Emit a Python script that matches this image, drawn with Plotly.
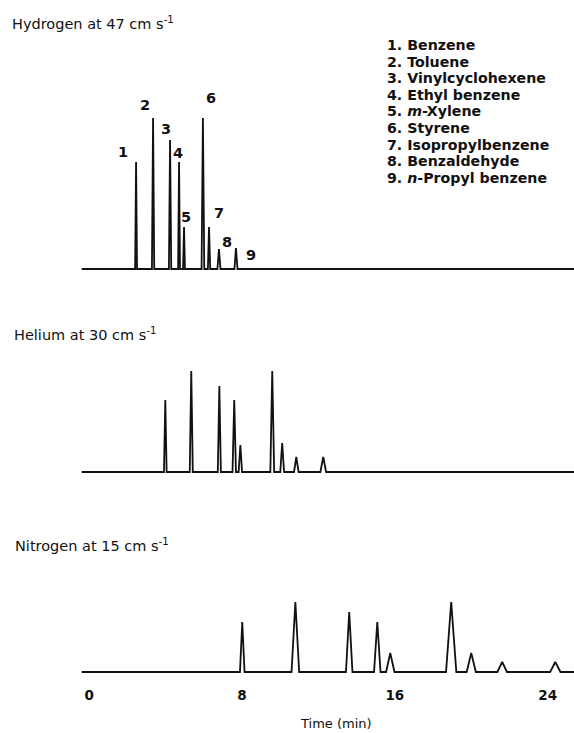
import plotly.graph_objects as go

# Peak identities (same elution order on every column)
PEAK_IDS = ["1", "2", "3", "4", "5", "6", "7", "8", "9"]
COMPOUNDS = [
    "Benzene",
    "Toluene",
    "Vinylcyclohexene",
    "Ethyl benzene",
    "<i>m</i>-Xylene",
    "Styrene",
    "Isopropylbenzene",
    "Benzaldehyde",
    "<i>n</i>-Propyl benzene",
]

# Carrier gas runs: retention time (min), peak height (detector units), half base width (min)
H2_TITLE = "Hydrogen at 47 cm s<sup>-1</sup>"
H2_TIMES = [2.45, 3.34, 4.23, 4.70, 4.96, 5.95, 6.27, 6.79, 7.68]
H2_HEIGHTS = [107, 151, 129, 107, 42, 151, 42, 20, 21]
H2_WIDTHS = [0.05, 0.06, 0.06, 0.05, 0.05, 0.07, 0.06, 0.08, 0.08]

HE_TITLE = "Helium at 30 cm s<sup>-1</sup>"
HE_TIMES = [3.98, 5.34, 6.81, 7.59, 7.91, 9.58, 10.10, 10.84, 12.25]
HE_HEIGHTS = [72, 101, 86, 72, 27, 101, 29, 15, 15]
HE_WIDTHS = [0.07, 0.08, 0.08, 0.09, 0.09, 0.10, 0.10, 0.12, 0.15]

N2_TITLE = "Nitrogen at 15 cm s<sup>-1</sup>"
N2_TIMES = [8.01, 10.79, 13.61, 15.08, 15.76, 18.95, 20.00, 21.62, 24.40]
N2_HEIGHTS = [50, 70, 60, 50, 19, 70, 19, 10, 10]
N2_WIDTHS = [0.12, 0.20, 0.17, 0.17, 0.22, 0.27, 0.24, 0.25, 0.27]

# Time axis
TIME_TICKS = [0, 8, 16, 24]
TIME_TICK_TEXT = ["0", "8", "16", "24"]
RUN_START = -0.4
RUN_END = 25.5

# ---- page geometry -------------------------------------------------------
W, H = 574, 733
X_RANGE = [-4.675, 25.38]


def py(px):
    """Convert a pixel row (from the top) to paper coordinates."""
    return 1 - px / H


def px_x(px):
    return px / W


def chromatogram(times, heights, widths):
    xs, ys = [RUN_START], [0]
    for t, h, w in zip(times, heights, widths):
        xs += [t - w, t, t + w]
        ys += [0, h, 0]
    xs.append(RUN_END)
    ys.append(0)
    return xs, ys


# panel pixel boxes: (top px, bottom px, baseline px)
PANELS = [
    ("y", H2_TIMES, H2_HEIGHTS, H2_WIDTHS, (80, 279, 269)),
    ("y2", HE_TIMES, HE_HEIGHTS, HE_WIDTHS, (340, 481, 472)),
    ("y3", N2_TIMES, N2_HEIGHTS, N2_WIDTHS, (560, 682, 672)),
]

fig = go.Figure()
layout_axes = {}
for i, (yref, times, heights, widths, (top, bot, base)) in enumerate(PANELS):
    xs, ys = chromatogram(times, heights, widths)
    fig.add_trace(
        go.Scatter(
            x=xs,
            y=ys,
            mode="lines",
            line=dict(color="#111111", width=1.8),
            xaxis="x",
            yaxis=yref,
            hoverinfo="skip",
            showlegend=False,
        )
    )
    name = "yaxis" if i == 0 else f"yaxis{i + 1}"
    layout_axes[name] = dict(
        domain=[py(bot), py(top)],
        range=[-(bot - base), base - top],
        visible=False,
        fixedrange=True,
    )

annotations = []

# run titles
TITLE_POS = [(10, 23), (12, 334), (13, 545)]
for text, (x0, y0) in zip([H2_TITLE, HE_TITLE, N2_TITLE], TITLE_POS):
    annotations.append(
        dict(
            text=text,
            x=px_x(x0),
            y=py(y0),
            xref="paper",
            yref="paper",
            xanchor="left",
            yanchor="middle",
            showarrow=False,
            font=dict(family="DejaVu Sans", size=14.5, color="#111111"),
        )
    )

# compound key
for k, (pid, comp) in enumerate(zip(PEAK_IDS, COMPOUNDS)):
    annotations.append(
        dict(
            text=f"<b>{pid}. {comp}</b>",
            x=px_x(385),
            y=py(45 + k * 16.6),
            xref="paper",
            yref="paper",
            xanchor="left",
            yanchor="middle",
            showarrow=False,
            font=dict(family="DejaVu Sans", size=14.2, color="#111111"),
        )
    )

# peak numbers on the hydrogen run (pixel offsets from each apex)
LABEL_SHIFTS = [(-13, 10), (-8, 13), (-4, 11), (-1, 9), (2, 10), (8, 20), (10, 14), (8, 7), (15, -7)]
for pid, t, h, (dx, dy) in zip(PEAK_IDS, H2_TIMES, H2_HEIGHTS, LABEL_SHIFTS):
    annotations.append(
        dict(
            text=f"<b>{pid}</b>",
            x=t,
            y=h,
            xref="x",
            yref="y",
            xshift=dx,
            yshift=dy,
            xanchor="center",
            yanchor="middle",
            showarrow=False,
            font=dict(family="DejaVu Sans", size=14.5, color="#111111"),
        )
    )

# time axis title
annotations.append(
    dict(
        text="Time (min)",
        x=12.9,
        y=py(723),
        xref="x",
        yref="paper",
        xanchor="center",
        yanchor="middle",
        showarrow=False,
        font=dict(family="DejaVu Sans", size=13, color="#111111"),
    )
)

fig.update_layout(
    width=W,
    height=H,
    margin=dict(l=0, r=0, t=0, b=0),
    paper_bgcolor="white",
    plot_bgcolor="white",
    xaxis=dict(
        domain=[0, 1],
        range=X_RANGE,
        anchor="y3",
        tickvals=TIME_TICKS,
        ticktext=TIME_TICK_TEXT,
        tickfont=dict(family="DejaVu Sans", size=13.5, color="#111111", weight="bold"),
        ticklabelstandoff=3,
        ticks="",
        showline=False,
        showgrid=False,
        zeroline=False,
        fixedrange=True,
    ),
    annotations=annotations,
    **layout_axes,
)

fig.write_html("out.html")
